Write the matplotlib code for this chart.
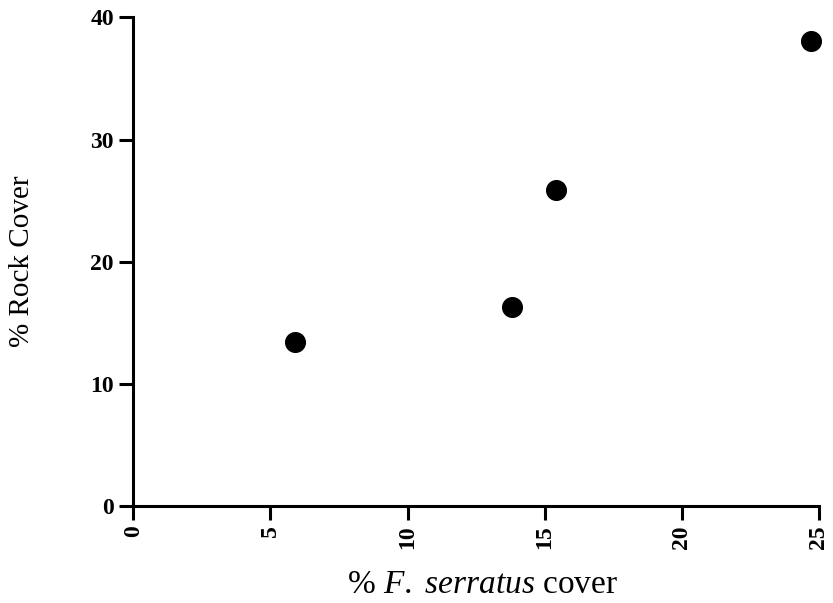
import matplotlib
matplotlib.use("Agg")
import matplotlib.pyplot as plt

# % F. serratus cover vs % rock cover
fucus_cover = [5.9, 13.8, 15.4, 24.7]
rock_cover = [13.4, 16.3, 25.9, 38.1]
x_ticks = [0, 5, 10, 15, 20, 25]
y_ticks = [0, 10, 20, 30, 40]

plt.rcParams["font.family"] = ["Liberation Serif", "DejaVu Serif"]
plt.rcParams["mathtext.fontset"] = "custom"
plt.rcParams["mathtext.rm"] = "Liberation Serif"
plt.rcParams["mathtext.it"] = "Liberation Serif:italic"

fig = plt.figure(figsize=(8.33, 6.03), dpi=100)
ax = fig.add_axes([0.16, 0.161, 0.823, 0.81])

ax.scatter(fucus_cover, rock_cover, s=200, color="black", zorder=3, clip_on=False)

ax.set_xlim(0, 25)
ax.set_ylim(0, 40)
ax.set_xticks(x_ticks)
ax.set_yticks(y_ticks)
ax.set_xticklabels([str(t) for t in x_ticks], rotation=90, fontsize=17, fontweight="bold")
ax.set_yticklabels([str(t) for t in y_ticks], fontsize=17, fontweight="bold")

for side in ["top", "right"]:
    ax.spines[side].set_visible(False)
for side in ["left", "bottom"]:
    ax.spines[side].set_linewidth(2.2)
ax.tick_params(direction="out", length=10, width=2.2, pad=4)

ax.set_xlabel("% $\\mathit{F.\\ serratus}$ cover", fontsize=24)
ax.set_ylabel("% Rock Cover", fontsize=21)
ax.xaxis.set_label_coords(0.509, -0.13)
ax.yaxis.set_label_coords(-0.143, 0.5)

fig.savefig("out.png", dpi=100)
